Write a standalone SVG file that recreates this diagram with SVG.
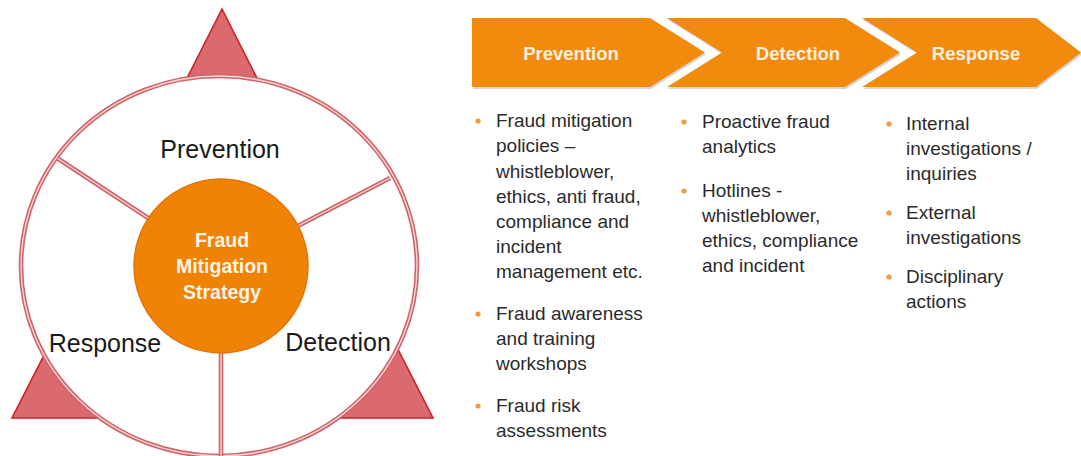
<svg xmlns="http://www.w3.org/2000/svg" width="1081" height="456" viewBox="0 0 1081 456">
<style>
.tri{fill:#da6a6d;stroke:#cf1f26;stroke-width:1.6;stroke-linejoin:miter}
.ringo{fill:none;stroke:#cf646a;stroke-width:4.6}
.ringi{fill:none;stroke:#f7d6d6;stroke-width:1.4}
.lbl{font-family:"Liberation Sans",Arial,sans-serif;font-size:25px;fill:#1a1a1a}
.ctr{font-family:"Liberation Sans",Arial,sans-serif;font-size:19.5px;font-weight:bold;fill:#fdf3e6;text-anchor:middle}
.chev{fill:#f28a0e}
.chsh{fill:#b9b9b9;opacity:0.6}
.cht{font-family:"Liberation Sans",Arial,sans-serif;font-size:18.5px;font-weight:bold;fill:#fdf1e2;text-anchor:middle}
.bt{font-family:"Liberation Sans",Arial,sans-serif;font-size:19px;fill:#2b2b2b}
.dot{fill:#f39a3c}
</style>

<g id="wheel">
  <polygon class="tri" points="222,9 268,100 176,100"/>
  <polygon class="tri" points="63,318 114,418 12,418"/>
  <polygon class="tri" points="382,318 433,418 331,418"/>
  <ellipse cx="219" cy="266" rx="198" ry="190" fill="#ffffff"/>
  <ellipse class="ringo" cx="219" cy="266" rx="198" ry="190"/>
  <ellipse class="ringi" cx="219" cy="266" rx="198" ry="190"/>
</g>

<g id="connectors">
  <g class="ringo">
    <line x1="221" y1="266" x2="57" y2="158"/>
    <line x1="221" y1="266" x2="390" y2="178"/>
    <line x1="221" y1="266" x2="221" y2="458"/>
  </g>
  <g class="ringi">
    <line x1="221" y1="266" x2="57" y2="158"/>
    <line x1="221" y1="266" x2="390" y2="178"/>
    <line x1="221" y1="266" x2="221" y2="458"/>
  </g>
</g>

<g id="center">
  <circle cx="221" cy="266" r="87" fill="#f08205" stroke="#e27408" stroke-width="1.5"/>
  <text class="ctr" x="222" y="247">Fraud</text>
  <text class="ctr" x="222" y="273">Mitigation</text>
  <text class="ctr" x="222" y="299">Strategy</text>
</g>

<g id="label-prevention"><text class="lbl" x="220" y="158" text-anchor="middle">Prevention</text></g>
<g id="label-response"><text class="lbl" x="105" y="352" text-anchor="middle">Response</text></g>
<g id="label-detection"><text class="lbl" x="338" y="351" text-anchor="middle">Detection</text></g>

<g id="chevron-prevention">
  <path class="chsh" d="M473,20 L651,20 L706,54.5 L651,89 L473,89 Z"/>
  <path class="chev" d="M472,18 L650,18 L705,52.5 L650,87 L472,87 Z"/>
  <text class="cht" x="571" y="60">Prevention</text>
</g>
<g id="chevron-detection">
  <path class="chsh" d="M668,20 L846,20 L901,54.5 L846,89 L668,89 L723,54.5 Z"/>
  <path class="chev" d="M667,18 L845,18 L900,52.5 L845,87 L667,87 L722,52.5 Z"/>
  <text class="cht" x="798" y="60">Detection</text>
</g>
<g id="chevron-response">
  <path class="chsh" d="M863,20 L1037,20 L1082,54.5 L1037,89 L863,89 L918,54.5 Z"/>
  <path class="chev" d="M862,18 L1036,18 L1081,52.5 L1036,87 L862,87 L917,52.5 Z"/>
  <text class="cht" x="976" y="60">Response</text>
</g>

<g id="list-prevention">
  <circle class="dot" cx="478" cy="121" r="2.6"/>
  <text class="bt" x="496" y="127">Fraud mitigation</text>
  <text class="bt" x="496" y="152">policies –</text>
  <text class="bt" x="496" y="178">whistleblower,</text>
  <text class="bt" x="496" y="203">ethics, anti fraud,</text>
  <text class="bt" x="496" y="228">compliance and</text>
  <text class="bt" x="496" y="253">incident</text>
  <text class="bt" x="496" y="278">management etc.</text>
  <circle class="dot" cx="478" cy="314" r="2.6"/>
  <text class="bt" x="496" y="320">Fraud awareness</text>
  <text class="bt" x="496" y="345">and training</text>
  <text class="bt" x="496" y="370">workshops</text>
  <circle class="dot" cx="478" cy="406" r="2.6"/>
  <text class="bt" x="496" y="412">Fraud risk</text>
  <text class="bt" x="496" y="437">assessments</text>
</g>

<g id="list-detection">
  <circle class="dot" cx="684" cy="122" r="2.6"/>
  <text class="bt" x="702" y="128">Proactive fraud</text>
  <text class="bt" x="702" y="153">analytics</text>
  <circle class="dot" cx="684" cy="191" r="2.6"/>
  <text class="bt" x="702" y="197">Hotlines -</text>
  <text class="bt" x="702" y="222">whistleblower,</text>
  <text class="bt" x="702" y="247">ethics, compliance</text>
  <text class="bt" x="702" y="272">and incident</text>
</g>

<g id="list-response">
  <circle class="dot" cx="889" cy="124" r="2.6"/>
  <text class="bt" x="906" y="130">Internal</text>
  <text class="bt" x="906" y="155">investigations /</text>
  <text class="bt" x="906" y="180">inquiries</text>
  <circle class="dot" cx="889" cy="213" r="2.6"/>
  <text class="bt" x="906" y="219">External</text>
  <text class="bt" x="906" y="244">investigations</text>
  <circle class="dot" cx="889" cy="277" r="2.6"/>
  <text class="bt" x="906" y="283">Disciplinary</text>
  <text class="bt" x="906" y="308">actions</text>
</g>
</svg>
